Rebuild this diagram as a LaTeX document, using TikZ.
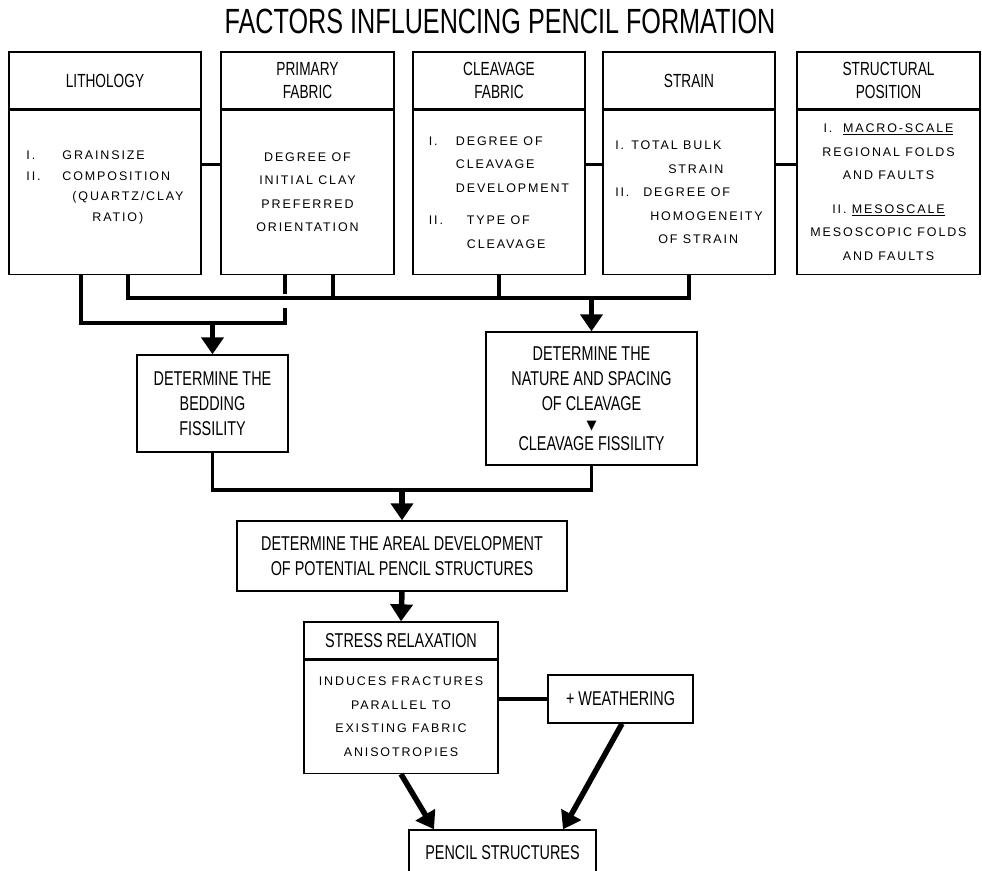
\documentclass[tikz,border=0pt]{standalone}
\usepackage{fontspec}
\setmainfont{Liberation Sans}[FakeStretch=0.72]
\newfontfamily\thinfont{Liberation Sans}[LetterSpace=15]
\newfontfamily\symfont{DejaVu Sans}
\usetikzlibrary{arrows.meta,positioning}

\begin{document}
\begin{tikzpicture}[
  x=1pt, y=-1pt,
  headbox/.style={draw, line width=1.4pt, align=center, inner sep=0pt,
    minimum height=57pt, font=\fontsize{19}{23}\selectfont},
  bodybox/.style={draw, line width=1.4pt, align=center, inner sep=0pt,
    minimum height=164pt, font=\thinfont\fontsize{12.5}{23.5}\selectfont},
  stepbox/.style={draw, line width=1.4pt, align=center, inner sep=0pt,
    font=\fontsize{20}{25}\selectfont},
  bus/.style={line width=3.5pt},
  arrow/.style={-{Triangle[width=22pt,length=17pt]}, line width=5.5pt}
]
\useasboundingbox (0,0) rectangle (982,870);

\node[font=\fontsize{35}{40}\selectfont] (title) at (500,21) {FACTORS INFLUENCING PENCIL FORMATION};

% factor boxes
\node[headbox, minimum width=192pt] (lithH) at (105,80.5) {LITHOLOGY};
\node[bodybox, minimum width=192pt, below=0pt of lithH, align=left,
  font=\thinfont\fontsize{12.5}{20.5}\selectfont] (lithB)
  {\makebox[36pt][l]{I.}GRAINSIZE\\ \makebox[36pt][l]{II.}COMPOSITION\\
   \hspace*{46pt}(QUARTZ/CLAY\\ \hspace*{66pt}RATIO)\\[-8pt]\mbox{}};
\node[headbox, minimum width=173pt] (primH) at (307.5,80.5) {PRIMARY\\FABRIC};
\node[bodybox, minimum width=173pt, below=0pt of primH] (primB)
  {DEGREE OF\\INITIAL CLAY\\PREFERRED\\ORIENTATION};
\node[headbox, minimum width=172pt] (cleavH) at (499,80.5) {CLEAVAGE\\FABRIC};
\node[bodybox, minimum width=172pt, below=0pt of cleavH, align=left] (cleavB)
  {\makebox[27pt][l]{I.}DEGREE OF\\ \hspace*{27pt}CLEAVAGE\\ \hspace*{27pt}DEVELOPMENT\\[9pt]
   \makebox[38pt][l]{II.}TYPE OF\\ \hspace*{38pt}CLEAVAGE};
\node[headbox, minimum width=172pt] (strainH) at (689,80.5) {STRAIN};
\node[bodybox, minimum width=172pt, below=0pt of strainH, align=left] (strainB)
  {\makebox[16pt][l]{I.}TOTAL BULK\\ \hspace*{53pt}STRAIN\\
   \makebox[28pt][l]{II.}DEGREE OF\\ \hspace*{35pt}HOMOGENEITY\\ \hspace*{43pt}OF STRAIN};
\node[headbox, minimum width=183pt] (structH) at (888.5,80.5) {STRUCTURAL\\POSITION};
\node[bodybox, minimum width=183pt, below=0pt of structH] (structB)
  {I.\ \ \underline{MACRO-SCALE}\\REGIONAL FOLDS\\AND FAULTS\\[10pt]
   II.\ \underline{MESOSCALE}\\MESOSCOPIC FOLDS\\AND FAULTS};

% process boxes
\node[stepbox, minimum width=151pt, minimum height=97pt] (bedding) at (212.5,403.5)
  {DETERMINE THE\\BEDDING\\FISSILITY};
\node[stepbox, minimum width=211pt, minimum height=133pt] (cleavdet) at (591.5,398.5)
  {DETERMINE THE\\NATURE AND SPACING\\OF CLEAVAGE\\[-6pt]
   {\symfont\fontsize{13}{13}\selectfont ▼}\\[-4pt]CLEAVAGE FISSILITY};
\node[stepbox, minimum width=330pt, minimum height=70pt] (areal) at (402,556)
  {DETERMINE THE AREAL DEVELOPMENT\\OF POTENTIAL PENCIL STRUCTURES};
\node[stepbox, minimum width=194pt, minimum height=37pt] (stressH) at (401,640.5)
  {STRESS RELAXATION};
\node[bodybox, minimum width=194pt, minimum height=113pt, below=0pt of stressH] (stressB)
  {INDUCES FRACTURES\\PARALLEL TO\\EXISTING FABRIC\\ANISOTROPIES};
\node[stepbox, minimum width=145pt, minimum height=48pt] (weather) at (620.5,699)
  {+ WEATHERING};
\node[stepbox, minimum width=187pt, minimum height=46pt] (pencil) at (502.5,853)
  {PENCIL STRUCTURES};

\coordinate (upbus) at (0,298);
\coordinate (lowbus) at (0,321);
\coordinate (midbus) at (0,490);

% links between factor boxes
\draw[bus] ([yshift=28pt]lithB.east) -- ([yshift=28pt]primB.west);
\draw[bus] ([yshift=28pt]cleavB.east) -- ([yshift=28pt]strainB.west);
\draw[bus] ([yshift=28pt]strainB.east) -- ([yshift=28pt]structB.west);

% upper and lower collectors
\draw[bus] ([xshift=23pt]lithB.south) |- (strainB.south |- upbus) -- (strainB.south);
\draw[bus] ([xshift=25.5pt]primB.south) -- ++(0,25);
\draw[bus] (cleavB.south) -- ++(0,25);
\draw[bus] ([xshift=-22.5pt]primB.south) -- ++(0,19);
\draw[bus] ([xshift=-24pt]lithB.south) -- ++(0,48) -| ++(204,-15);

\draw[arrow] (bedding.north |- lowbus) -- (bedding.north);
\draw[arrow] (cleavdet.north |- upbus) -- (cleavdet.north);
\draw[bus] (bedding.south) |- (cleavdet.south |- midbus) -- (cleavdet.south);
\draw[arrow] (areal.north |- midbus) -- (areal.north);
\draw[arrow] (areal.south) -- (stressH.north);
\draw[bus] (weather.west) -- (weather.west -| stressB.east);
\draw[arrow] (stressB.south) -- ([xshift=-68.5pt]pencil.north);
\draw[arrow] ([xshift=1.5pt]weather.south) -- ([xshift=60.5pt]pencil.north);
\end{tikzpicture}
\end{document}
